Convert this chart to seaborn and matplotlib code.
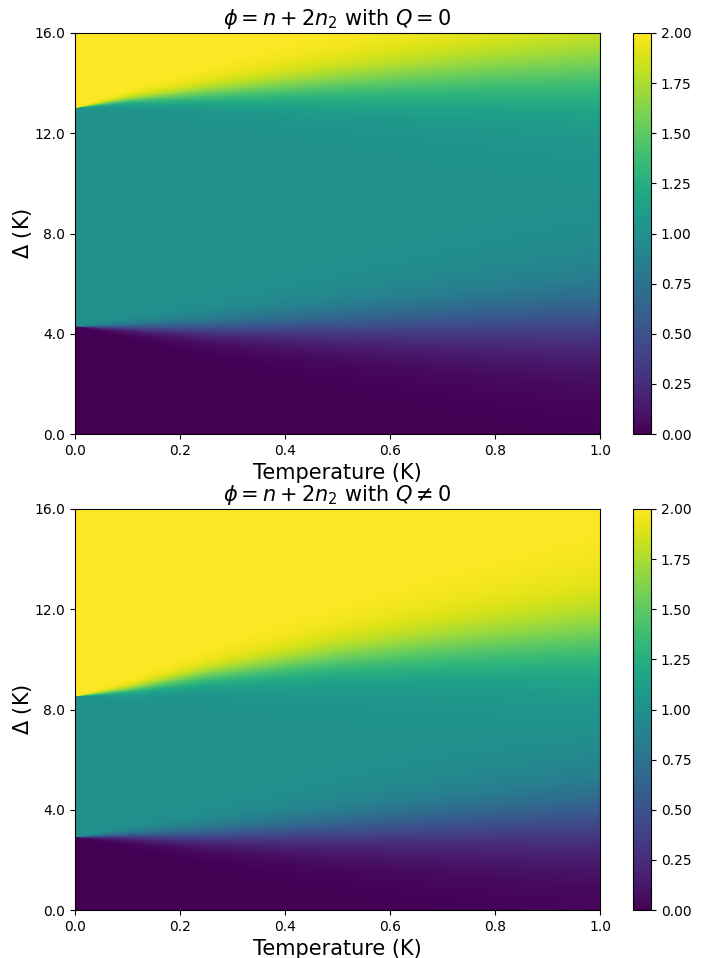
import numpy as np
import pandas as pd
import matplotlib
matplotlib.use("Agg")
import matplotlib.pyplot as plt
import seaborn as sns

# Step positions (K) of phi = n + 2 n2 versus temperature, for each coupling case
temp_nodes = [0.0, 0.1, 0.25, 0.5, 0.75, 1.0]

q0_lower = [4.30, 4.28, 4.25, 4.35, 4.50, 4.65]
q0_upper = [13.00, 13.30, 13.55, 13.90, 14.20, 14.45]

q1_lower = [2.91, 2.98, 3.00, 3.20, 3.45, 3.70]
q1_upper = [8.50, 8.75, 9.30, 9.95, 10.40, 10.75]

titles = [r"$\phi = n + 2n_2$ with $Q = 0$", r"$\phi = n + 2n_2$ with $Q \neq 0$"]
x_ticks = [0.0, 0.2, 0.4, 0.6, 0.8, 1.0]
y_ticks = [0.0, 4.0, 8.0, 12.0, 16.0]
cbar_ticks = [0.0, 0.25, 0.5, 0.75, 1.0, 1.25, 1.5, 1.75, 2.0]

T_MAX, D_MAX = 1.0, 16.0
N_T, N_D = 300, 400


def occupation_grid(lower, upper):
    t = (np.arange(N_T) + 0.5) / N_T * T_MAX
    d = D_MAX - (np.arange(N_D) + 0.5) / N_D * D_MAX  # top row = largest gap
    c1 = np.interp(t, temp_nodes, lower)
    c2 = np.interp(t, temp_nodes, upper)
    tt = np.maximum(t, 1e-4)[None, :]
    dd = d[:, None]
    step1 = 0.5 * (1 + np.tanh((dd - c1[None, :]) / (2 * tt)))
    step2 = 0.5 * (1 + np.tanh((dd - c2[None, :]) / (2 * tt)))
    return pd.DataFrame(step1 + step2, index=np.round(d, 3), columns=np.round(t, 4))


W, H = 707, 958
fig = plt.figure(figsize=(W / 100, H / 100), dpi=100)

panels = [
    (occupation_grid(q0_lower, q0_upper), 434),
    (occupation_grid(q1_lower, q1_upper), 910),
]

for (grid, y_bottom), title in zip(panels, titles):
    ax = fig.add_axes([75 / W, (H - y_bottom) / H, 525 / W, 401 / H])
    cax = fig.add_axes([633 / W, (H - y_bottom) / H, 18 / W, 401 / H])
    sns.heatmap(grid, cmap="viridis", vmin=0, vmax=2, ax=ax, cbar_ax=cax,
                xticklabels=False, yticklabels=False)
    for s in ax.spines.values():
        s.set_visible(True)
        s.set_linewidth(0.8)
    ax.set_xticks([v / T_MAX * N_T for v in x_ticks])
    ax.set_xticklabels([f"{v:.1f}" for v in x_ticks], fontsize=10, rotation=0)
    ax.set_yticks([(D_MAX - v) / D_MAX * N_D for v in y_ticks])
    ax.set_yticklabels([f"{v:.1f}" for v in y_ticks], fontsize=10, rotation=0)
    ax.tick_params(length=3.5, width=0.8)
    ax.set_xlabel("Temperature (K)", fontsize=15)
    ax.set_ylabel(r"$\Delta$ (K)", fontsize=15, labelpad=0)
    ax.set_title(title, fontsize=15)

    cb = ax.collections[0].colorbar
    cb.outline.set_visible(True)
    cb.outline.set_linewidth(0.8)
    cb.set_ticks(cbar_ticks)
    cb.set_ticklabels([f"{v:.2f}" for v in cbar_ticks])
    cax.tick_params(labelsize=10, length=3.5, width=0.8)

fig.savefig("out.png", dpi=100)
